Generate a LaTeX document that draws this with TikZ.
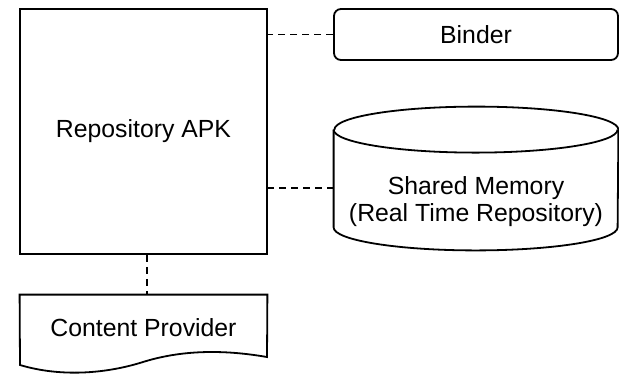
\documentclass[tikz,border=0pt]{standalone}
\usepackage{fontspec}
\setmainfont{Liberation Sans}
\usetikzlibrary{positioning}
\tikzset{
    box/.style = {rectangle, draw=black, line width=0.9pt, minimum width=123.5pt, minimum height=122.5pt},
    roundbox/.style = {rectangle, rounded corners=3.5pt, draw=black, line width=0.9pt, minimum width=142pt, minimum height=25.5pt},
    textnode/.style = {inner sep=0pt, align=center},
    shapeline/.style = {line width=0.9pt, draw=black},
    link/.style = {line width=0.9pt, dash pattern=on 3.5pt off 2.5pt}, % dashed connector
}

\begin{document}
\begin{tikzpicture}[x=0.5pt, y=-0.5pt, font=\fontsize{12.4}{13.6}\selectfont]
  \useasboundingbox (0,0) rectangle (619,376);

  \node[box] (apk) at (143.5,131.5) {Repository APK};
  \node[roundbox] (binder) at (476,34.5) {Binder};
  \node[textnode, minimum width=142pt, minimum height=48.5pt] (mem) at (476,201.5) {Shared Memory\\(Real Time Repository)};
  \node[textnode, minimum width=123.5pt, minimum height=33pt] (cp) at (143.5,328) {Content Provider};

  % cylinder
  \draw[shapeline] ([yshift=11.5pt]mem.north west) -- ([yshift=11.5pt]mem.south west)
    arc[start angle=180, end angle=360, x radius=71pt, y radius=11.5pt]
    -- ([yshift=11.5pt]mem.north east)
    arc[start angle=0, end angle=180, x radius=71pt, y radius=11.5pt];
  \draw[shapeline] ([yshift=11.5pt]mem.north west) arc[start angle=180, end angle=360, x radius=71pt, y radius=11.5pt];

  % document shape
  \draw[shapeline] (cp.north west) -- (cp.north east) -- (267,357)
    .. controls (215,348) and (175,352) .. (143,362)
    .. controls (105,374) and (60,377) .. (20,365) -- cycle;

  \coordinate (memin) at ([yshift=6.75pt]mem.west);
  \draw[link] (binder.west) -- (binder.west -| apk.east);
  \draw[link] (memin) -- (memin -| apk.east);
  \draw[link] ([xshift=1.75pt]apk.south) -- ([xshift=1.75pt]cp.north);
\end{tikzpicture}
\end{document}
